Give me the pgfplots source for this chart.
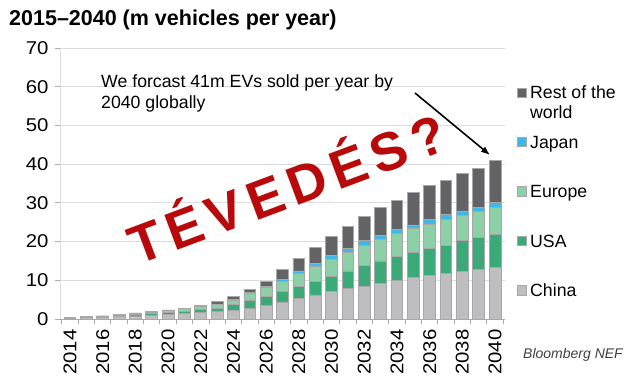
\documentclass[border=0pt]{standalone}
\usepackage{pgfplots}
\pgfplotsset{compat=1.18}
\usepackage{pgfplotstable}
\usetikzlibrary{arrows.meta}
\usepackage{fontspec}
\setmainfont{Liberation Sans}
\newfontfamily\tickfont[FakeStretch=1.1]{Liberation Sans}
\definecolor{cChina}{HTML}{BEBDBF}
\definecolor{cUSA}{HTML}{3BAA78}
\definecolor{cEurope}{HTML}{8DD0A8}
\definecolor{cJapan}{HTML}{3DB8E8}
\definecolor{cRow}{HTML}{636265}
\definecolor{cEdge}{HTML}{A8A8A8}
\definecolor{cGrid}{HTML}{DCDCDC}
\definecolor{cRed}{HTML}{B80A0A}

\pgfplotstableread{
year china usa europe japan row
2014 0.15 0.08 0.05 0.02 0.00
2015 0.30 0.10 0.15 0.03 0.02
2016 0.40 0.15 0.20 0.03 0.02
2017 0.55 0.20 0.27 0.05 0.03
2018 0.80 0.30 0.35 0.05 0.05
2019 1.00 0.35 0.40 0.05 0.05
2020 1.20 0.45 0.55 0.05 0.10
2021 1.40 0.60 0.65 0.07 0.10
2022 1.70 0.80 0.85 0.10 0.15
2023 1.90 0.90 1.00 0.10 0.70
2024 2.30 1.50 1.10 0.15 0.85
2025 2.80 2.10 1.70 0.30 0.80
2026 3.50 2.30 2.30 0.30 1.40
2027 4.40 2.70 2.70 0.50 2.40
2028 5.30 3.00 3.50 0.60 3.30
2029 6.20 3.60 3.90 0.70 4.00
2030 7.10 4.00 4.40 0.80 5.10
2031 7.90 4.50 4.80 1.10 5.60
2032 8.50 5.30 5.30 1.10 6.20
2033 9.20 5.80 5.60 1.00 7.20
2034 9.90 6.20 6.00 1.10 7.50
2035 10.80 6.40 6.20 0.90 8.30
2036 11.20 7.00 6.30 1.10 8.80
2037 11.80 7.30 6.70 1.10 9.00
2038 12.20 8.00 6.50 1.20 9.60
2039 12.80 8.20 6.70 1.20 10.00
2040 13.40 8.50 6.90 1.20 11.00
}\evdata

\begin{document}
\begin{tikzpicture}[x=1pt,y=1pt]
\path[use as bounding box] (0,0) rectangle (630,383);
\begin{axis}[
  at={(60pt,64pt)}, anchor=south west,
  scale only axis, width=445pt, height=271pt,
  xmin=2013.39, xmax=2040.61, ymin=0, ymax=70,
  ybar stacked, bar width=0.72,
  axis x line*=bottom, axis y line*=left,
  x axis line style={-, draw=cEdge, line width=0.8pt},
  y axis line style={-, draw=cGrid, line width=0.8pt},
  tick align=outside, major tick length=5pt,
  tick style={draw=cEdge, line width=0.8pt},
  ytick={0,10,...,70},
  ymajorgrids, grid style={draw=cGrid, line width=0.8pt},
  xtick={2013.5,2014.5,...,2040.5}, xticklabels={},
  extra x ticks={2014,2016,2018,2020,2022,2024,2026,2028,2030,2032,2034,2036,2038,2040},
  extra x tick labels={2014,2016,2018,2020,2022,2024,2026,2028,2030,2032,2034,2036,2038,2040},
  extra x tick style={grid=none, tick style={draw=none}},
  /pgf/number format/assume math mode=true,
  xticklabel style={yshift=-2pt, rotate=90, anchor=east, font=\tickfont\fontsize{18.5}{18.5}\selectfont},
  yticklabel style={xshift=-3pt, font=\tickfont\fontsize{18.5}{18.5}\selectfont},
  every axis plot/.append style={draw=cEdge, line width=0.8pt},
]
\addplot[fill=cChina, draw=cEdge] table[x=year, y=china] {\evdata};
\addplot[fill=cUSA, draw=cEdge] table[x=year, y=usa] {\evdata};
\addplot[fill=cEurope, draw=cEdge] table[x=year, y=europe] {\evdata};
\addplot[fill=cJapan, draw=cEdge] table[x=year, y=japan] {\evdata};
\addplot[fill=cRow, draw=cEdge] table[x=year, y=row] {\evdata};
\end{axis}

% title
\node[anchor=base west, inner sep=0pt, font=\fontsize{21.5}{21.5}\bfseries\selectfont] at (9,357) {2015–2040 (m vehicles per year)};

% annotation
\node[anchor=base west, inner sep=0pt, font=\fontsize{17.7}{17.7}\selectfont] at (101,295.5) {We forcast 41m EVs sold per year by};
\node[anchor=base west, inner sep=0pt, font=\fontsize{17.7}{17.7}\selectfont] at (101,274.5) {2040 globally};
\draw[line width=1.6pt, -{Latex[length=9pt,width=7pt]}] (415,290) -- (490,228);

% legend
\begin{scope}[font=\fontsize{17.7}{17.7}\selectfont]
\draw[draw=cEdge, fill=cRow] (517,285.5) rectangle (526.5,295);
\node[anchor=base west, inner sep=0pt] at (530,284) {Rest of the};
\node[anchor=base west, inner sep=0pt] at (530,264.5) {world};
\draw[draw=cEdge, fill=cJapan] (517,236.5) rectangle (526.5,246);
\node[anchor=base west, inner sep=0pt] at (530,234.5) {Japan};
\draw[draw=cEdge, fill=cEurope] (517,187) rectangle (526.5,196.5);
\node[anchor=base west, inner sep=0pt] at (530,185) {Europe};
\draw[draw=cEdge, fill=cUSA] (517,137.5) rectangle (526.5,147);
\node[anchor=base west, inner sep=0pt] at (530,135.5) {USA};
\draw[draw=cEdge, fill=cChina] (517,88) rectangle (526.5,97.5);
\node[anchor=base west, inner sep=0pt] at (530,86) {China};
\end{scope}

% source
\node[anchor=center, inner sep=0pt, text=black!75, font=\fontsize{14}{14}\itshape\selectfont] at (573,28) {Bloomberg NEF};

% stamp
\node[anchor=base west, inner sep=0pt, rotate=20.5, text=cRed,
  font=\fontsize{54}{54}\bfseries\addfontfeatures{LetterSpace=13}\selectfont] at (137,117) {TÉVEDÉS?};
\end{tikzpicture}
\end{document}
